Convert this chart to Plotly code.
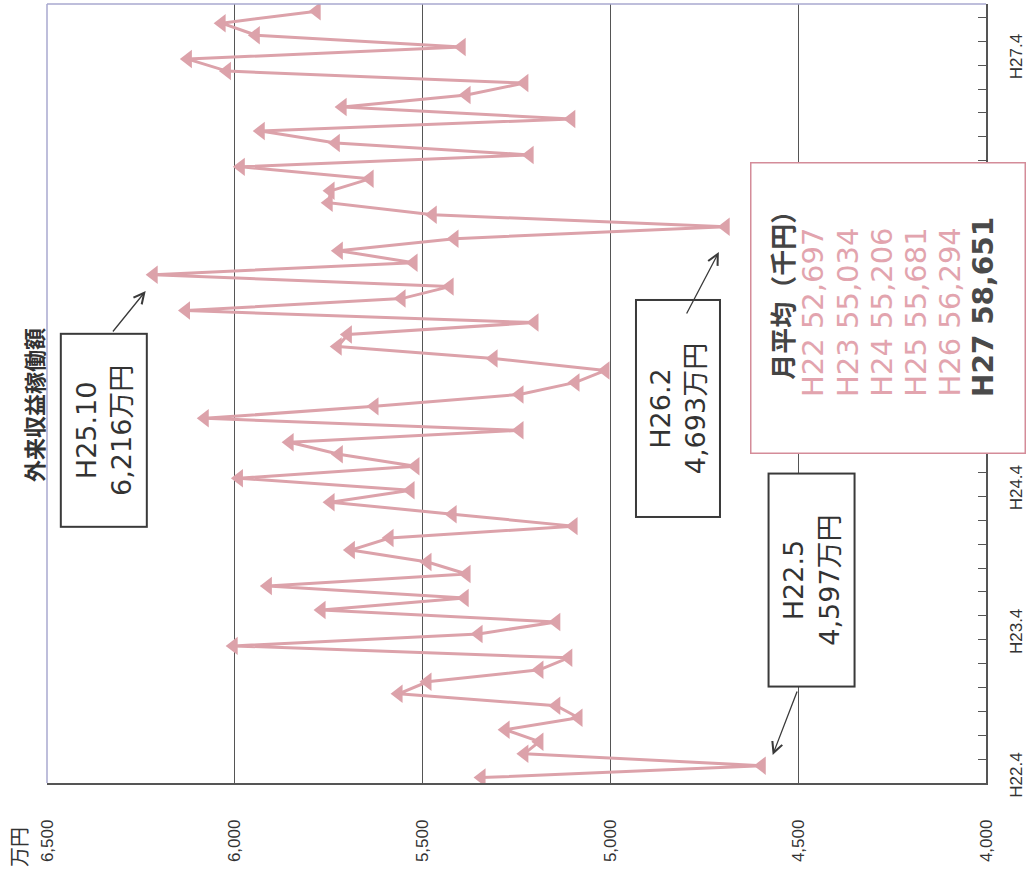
import plotly.graph_objects as go

# ---------------- data ----------------
months = [
    "H22.4", "H22.5", "H22.6", "H22.7", "H22.8", "H22.9", "H22.10", "H22.11", "H22.12", "H23.1", "H23.2", "H23.3",
    "H23.4", "H23.5", "H23.6", "H23.7", "H23.8", "H23.9", "H23.10", "H23.11", "H23.12", "H24.1", "H24.2", "H24.3",
    "H24.4", "H24.5", "H24.6", "H24.7", "H24.8", "H24.9", "H24.10", "H24.11", "H24.12", "H25.1", "H25.2", "H25.3",
    "H25.4", "H25.5", "H25.6", "H25.7", "H25.8", "H25.9", "H25.10", "H25.11", "H25.12", "H26.1", "H26.2", "H26.3",
    "H26.4", "H26.5", "H26.6", "H26.7", "H26.8", "H26.9", "H26.10", "H26.11", "H26.12", "H27.1", "H27.2", "H27.3",
    "H27.4", "H27.5", "H27.6", "H27.7", "H27.8",
]
values = [  # 万円
    5343, 4597, 5229, 5189, 5279, 5085, 5144, 5564, 5487, 5189, 5112, 6003,
    5351, 5144, 5769, 5388, 5912, 5383, 5487, 5691, 5588, 5098, 5420, 5745,
    5532, 5989, 5519, 5723, 5854, 5242, 6080, 5628, 5242, 5093, 5013, 5311,
    5726, 5699, 5202, 6130, 5556, 5428, 6216, 5524, 5723, 5415, 4693, 5473,
    5750, 5745, 5641, 5984, 5215, 5731, 5931, 5104, 5713, 5383, 5229, 6021,
    6125, 5396, 5944, 6035, 5782,
]
value_ticks = [6500, 6000, 5500, 5000, 4500, 4000]
value_tick_text = ["6,500", "6,000", "5,500", "5,000", "4,500", "4,000"]
month_tick_labels = ["H22.4", "H23.4", "H24.4", "H25.4", "H26.4", "H27.4"]
fy_labels = ["H22", "H23", "H24", "H25", "H26", "H27"]
fy_avg_text = ["52,697", "55,034", "55,206", "55,681", "56,294", "58,651"]
callout_months = ["H25.10", "H26.2", "H22.5"]
title_text = "外来収益稼働額"
unit_text = "万円"
legend_title = "月平均（千円）"

# ---------------- styling ----------------
PINK = "#DCA2AA"
PINK_TXT = "#E2A4AE"
DARK = "#333333"
FONT = "DejaVu Sans, Noto Sans CJK JP, sans-serif"
CJK = "Noto Sans CJK JP, sans-serif"

W_PX, H_PX = 1030, 872
L, R, T, B = 47, 989, 4, 783


def px(x):
    return (x - L) / (R - L)


def py(y):
    return (B - y) / (B - T)


idx = list(range(len(months)))

fig = go.Figure()
fig.add_trace(go.Scatter(
    x=values, y=idx, mode="lines+markers",
    line=dict(color=PINK, width=3),
    marker=dict(symbol="triangle-left", size=16, color=PINK, line=dict(width=0)),
    hoverinfo="skip", showlegend=False,
))

annotations = []
# title (rotated)
annotations.append(dict(text=f"<b>{title_text}</b>", xref="paper", yref="paper", x=px(33), y=py(405),
                        xanchor="center", yanchor="middle", textangle=-90, showarrow=False,
                        font=dict(family=CJK, size=22, color=DARK)))
# unit
annotations.append(dict(text=unit_text, xref="paper", yref="paper", x=px(18), y=py(847),
                        xanchor="center", yanchor="middle", textangle=-90, showarrow=False,
                        font=dict(family=CJK, size=20, color=DARK)))

# callout boxes: box center px, box size px (w,h on screen), arrow tail, arrow tip
callout_geo = {
    "H25.10": ((104, 430), (88, 195), (112, 333), (146, 291)),
    "H26.2": ((680, 408), (86, 219), (688, 315), (721, 252)),
    "H22.5": ((814, 580), (88, 215), (800, 690), (775, 755)),
}
for m in callout_months:
    v = values[months.index(m)]
    (cx, cy), (bw, bh), (tx, ty), (hx, hy) = callout_geo[m]
    annotations.append(dict(
        text=f"{m}<br>{v:,}万円", xref="paper", yref="paper", x=px(cx), y=py(cy),
        xanchor="center", yanchor="middle", textangle=-90, showarrow=False,
        width=bh - 6, height=bw - 6, align="center",
        bgcolor="white", bordercolor="#3a3a3a", borderwidth=2, borderpad=1,
        font=dict(family=FONT, size=27, color=DARK)))
    annotations.append(dict(
        text="", xref="paper", yref="paper", x=px(hx), y=py(hy),
        ax=tx - hx, ay=ty - hy, axref="pixel", ayref="pixel",
        showarrow=True, arrowhead=5, arrowsize=1.6, arrowwidth=1.3, arrowcolor="#3a3a3a"))

# legend box (average per fiscal year)
annotations.append(dict(
    text=" ", xref="paper", yref="paper", x=px(890.5), y=py(307.5),
    xanchor="center", yanchor="middle", showarrow=False,
    width=273, height=289, bgcolor="white", bordercolor="#D48C99", borderwidth=1.5, borderpad=0))
col_x = [784, 816, 851, 885, 919, 953, 987]
annotations.append(dict(
    text=f"<b>{legend_title}</b>", xref="paper", yref="paper", x=px(col_x[0]), y=py(382),
    xanchor="center", yanchor="bottom", textangle=-90, showarrow=False,
    font=dict(family=CJK, size=26, color="#444444")))
for i, (lab, avg) in enumerate(zip(fy_labels, fy_avg_text)):
    last = i == len(fy_labels) - 1
    txt = f"<b>{lab} {avg}</b>" if last else f"{lab} {avg}"
    annotations.append(dict(
        text=txt, xref="paper", yref="paper", x=px(col_x[i + 1]), y=py(399),
        xanchor="center", yanchor="bottom", textangle=-90, showarrow=False,
        font=dict(family=FONT, size=29 if not last else 28, color="#4a4a4a" if last else PINK_TXT)))

shapes = [
    dict(type="line", xref="paper", yref="paper", x0=0, x1=1, y0=1, y1=1,
         line=dict(color="#A9A9CF", width=1.5)),
    dict(type="line", xref="paper", yref="paper", x0=0, x1=0, y0=0, y1=1,
         line=dict(color="#A9A9CF", width=1.5)),
]

fig.update_layout(
    width=W_PX, height=H_PX,
    margin=dict(l=L, r=W_PX - R, t=T, b=H_PX - B, pad=0),
    paper_bgcolor="white", plot_bgcolor="white",
    showlegend=False,
    annotations=annotations,
    shapes=shapes,
    xaxis=dict(
        range=[6500, 4000], tickmode="array", tickvals=value_ticks, ticktext=value_tick_text,
        tickangle=-90, ticklabelstandoff=28, ticks="",
        showgrid=True, gridcolor="#555555", gridwidth=1,
        showline=True, linecolor="#555555", linewidth=1.5, zeroline=False,
        tickfont=dict(family="Liberation Sans, Arial, sans-serif", size=17, color=DARK),
    ),
    yaxis=dict(
        side="right", range=[-0.45, 64.6],
        tickmode="array", tickvals=[months.index(m) for m in month_tick_labels],
        ticktext=month_tick_labels, tickangle=-90, ticks="", ticklabelstandoff=14,
        showgrid=False, zeroline=False,
        showline=True, linecolor="#555555", linewidth=1.5,
        tickfont=dict(family="Liberation Sans, Arial, sans-serif", size=17, color=DARK),
        minor=dict(ticks="inside", ticklen=8, tickcolor="#555555", tickwidth=1,
                   tickmode="linear", tick0=-0.5, dtick=2, showgrid=False),
    ),
)

fig.write_html("out.html", config={"displayModeBar": False},
               post_script="document.body.style.margin='0';document.body.style.overflow='hidden';")
